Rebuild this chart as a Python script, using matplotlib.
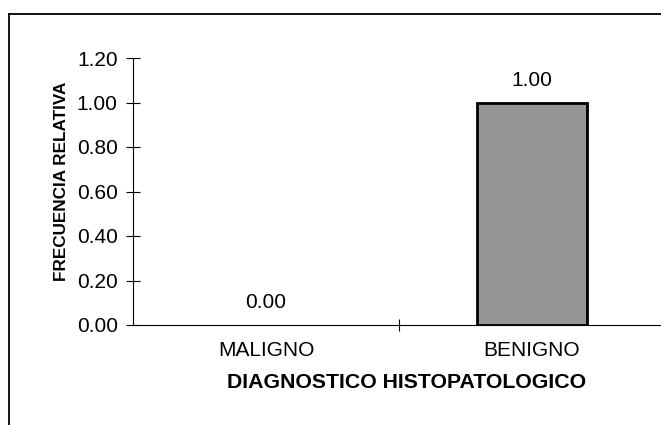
import matplotlib.pyplot as plt
from matplotlib.lines import Line2D
from matplotlib import ticker

plt.rcParams['font.family'] = ['Liberation Sans', 'DejaVu Sans']

categories = ['MALIGNO', 'BENIGNO']
freq = [0.00, 1.00]
yticks = [0.0, 0.2, 0.4, 0.6, 0.8, 1.0, 1.2]

fig = plt.figure(figsize=(6.61, 4.25), dpi=100)
ax = fig.add_axes([133 / 661, 1 - 325 / 425, 532 / 661, (325 - 58) / 425])

x = list(range(len(categories)))
bars = ax.bar(x, freq, width=0.41, color='#969696', edgecolor='black', linewidth=2)
for b, v in zip(bars, freq):
    if v == 0:
        b.set_linewidth(0)

for xi, v in zip(x, freq):
    ax.annotate(f'{v:.2f}', (xi, v), xytext=(0, 9), textcoords='offset points',
                ha='center', va='bottom', fontsize=15)

ax.set_xlim(-0.5, 1.5)
ax.set_ylim(0, 1.2)
ax.set_yticks(yticks)
ax.yaxis.set_major_formatter(ticker.FormatStrFormatter('%.2f'))
ax.set_xticks([0.5])
ax.set_xticklabels([''])
for xi, c in zip(x, categories):
    ax.text(xi, -0.07, c, ha='center', va='top', fontsize=15)

ax.tick_params(axis='y', direction='inout', length=10, width=0.8, labelsize=15, pad=6)
ax.tick_params(axis='x', direction='inout', length=8.5, width=0.8)
for s in ['top', 'right']:
    ax.spines[s].set_visible(False)
for s in ['left', 'bottom']:
    ax.spines[s].set_linewidth(0.8)
ax.patch.set_alpha(0)

fig.text(407 / 661, 1 - 383 / 425, 'DIAGNOSTICO HISTOPATOLOGICO', ha='center', va='center',
         fontsize=15.3, fontweight='bold')
fig.text(61 / 661, 1 - 181 / 425, 'FRECUENCIA RELATIVA', ha='center', va='center',
         rotation=90, fontsize=12.3, fontweight='bold')

# outer chart frame (only top and left visible)
fig.add_artist(Line2D([9 / 661, 1.0], [1 - 14 / 425, 1 - 14 / 425], color='black', linewidth=1.3,
                      transform=fig.transFigure))
fig.add_artist(Line2D([9 / 661, 9 / 661], [1 - 14 / 425, 0.0], color='black', linewidth=1.3,
                      transform=fig.transFigure))

plt.savefig('out.png', dpi=100)
